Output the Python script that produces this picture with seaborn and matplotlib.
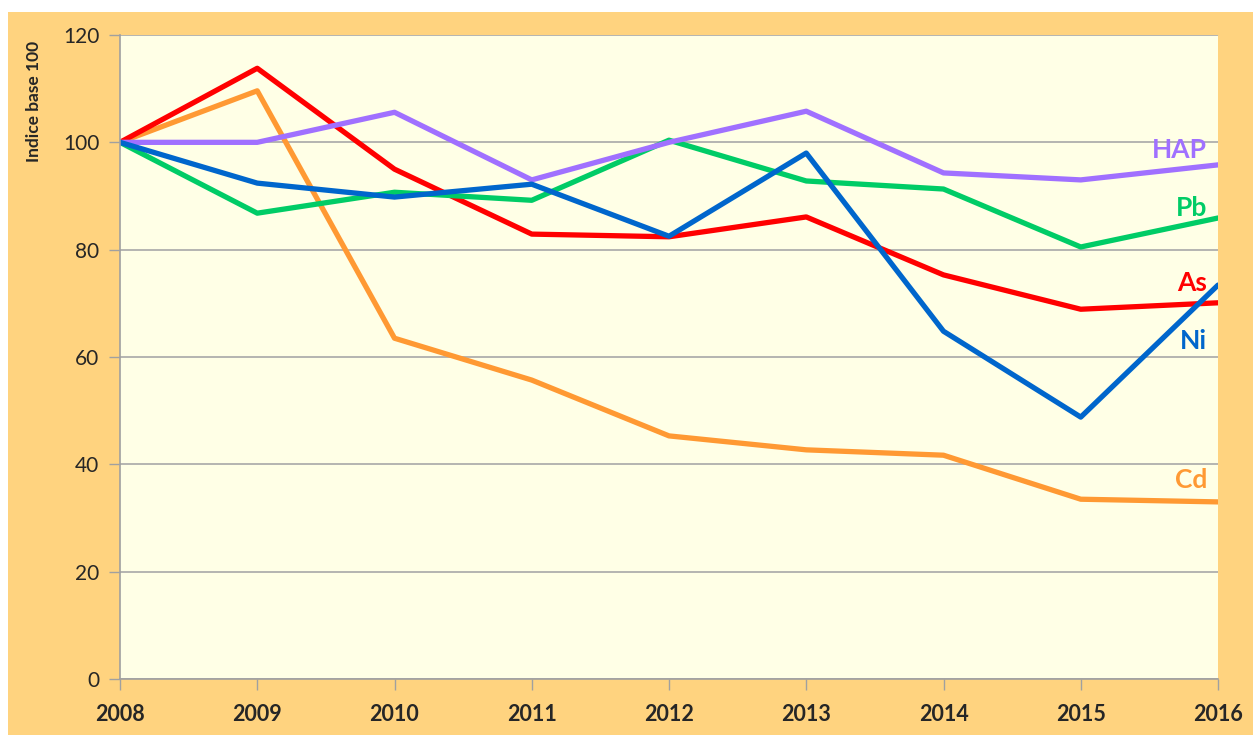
import numpy as np
import pandas as pd
import matplotlib
matplotlib.use("Agg")
import matplotlib.pyplot as plt
import seaborn as sns
from matplotlib.patches import Rectangle

years = [2008, 2009, 2010, 2011, 2012, 2013, 2014, 2015, 2016]
hap = [100, 100.0, 105.6, 93.0, 100.0, 105.8, 94.3, 93.0, 95.8]
pb = [100, 86.8, 90.7, 89.2, 100.4, 92.8, 91.3, 80.5, 85.9]
as_ = [100, 113.8, 95.0, 82.9, 82.4, 86.1, 75.3, 68.9, 70.1]
ni = [100, 92.4, 89.8, 92.2, 82.5, 98.0, 64.8, 48.8, 73.4]
cd = [100, 109.6, 63.5, 55.7, 45.3, 42.7, 41.7, 33.5, 33.0]

series_names = ["HAP", "Pb", "As", "Ni", "Cd"]
series_values = [hap, pb, as_, ni, cd]
colors = {"HAP": "#A070FF", "Pb": "#00CC66", "As": "#FF0000", "Ni": "#0066CC", "Cd": "#FF9933"}
label_y = {"HAP": 98.5, "Pb": 87.8, "As": 73.8, "Ni": 63.0, "Cd": 37.0}

rows = []
for name, vals in zip(series_names, series_values):
    for y, v in zip(years, vals):
        rows.append({"year": y, "value": v, "series": name})
df = pd.DataFrame(rows)

sns.set_theme(style="white")
plt.rcParams['font.family'] = ['Lato', 'DejaVu Sans']

fig = plt.figure(figsize=(12.53, 7.35), dpi=100, facecolor="#FFD37F")
fig.add_artist(Rectangle((0, 0), 8 / 1253, 1, transform=fig.transFigure,
                         facecolor="white", edgecolor="none", zorder=-5))
fig.add_artist(Rectangle((0, (735 - 12) / 735), 1, 12 / 735, transform=fig.transFigure,
                         facecolor="white", edgecolor="none", zorder=-5))
ax = fig.add_axes([120 / 1253, 56 / 735, 1098 / 1253, 644 / 735])
ax.set_facecolor("#FFFFE6")

order = ["Cd", "As", "Pb", "HAP", "Ni"]
sns.lineplot(data=df, x="year", y="value", hue="series", hue_order=order,
             palette=colors, linewidth=3.8, ax=ax, legend=False, sort=False)

ax.set_xlim(2008, 2016)
ax.set_ylim(0, 120)
ax.set_yticks(np.arange(0, 121, 20))
ax.set_xticks(years)
ax.set_xticklabels([str(y) for y in years], fontweight="bold", fontsize=15.5)
ax.tick_params(axis="y", labelsize=15, length=8, width=1, color="#A0A0A0", pad=7, direction="out", left=True)
ax.tick_params(axis="x", length=8, width=1, color="#A0A0A0", pad=10, direction="out", bottom=True)
ax.yaxis.grid(True, color="#A8A8A8", linewidth=1.2)
ax.xaxis.grid(False)
ax.set_axisbelow(True)
for s in ["top", "right"]:
    ax.spines[s].set_visible(False)
for s in ["left", "bottom"]:
    ax.spines[s].set_color("#A0A0A0")
    ax.spines[s].set_linewidth(1.2)

ax.set_xlabel("")
ax.set_ylabel("Indice base 100", fontsize=12.5, fontweight="bold", labelpad=0)
ax.yaxis.set_label_coords(-0.071, 0.897)

for name in series_names:
    ax.text(2015.92, label_y[name], name, color=colors[name], fontsize=19,
            fontweight="bold", ha="right", va="center")

fig.savefig("out.png", dpi=100, facecolor=fig.get_facecolor())
